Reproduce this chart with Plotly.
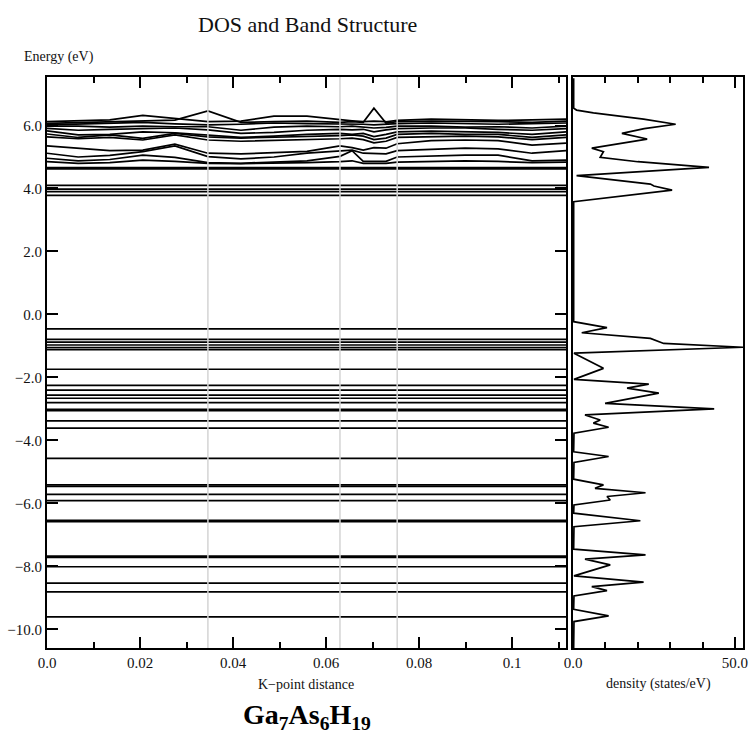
import plotly.graph_objects as go

# ---------------- data ----------------
# k-path vertices (K-point distance)
k_points = [0.0, 0.0067, 0.0135, 0.0206, 0.0275, 0.0346, 0.0417, 0.0488, 0.0559, 0.0630,
            0.0656, 0.0680, 0.0703, 0.0729, 0.0753, 0.0826, 0.0899, 0.0970, 0.1043, 0.1116]

# high-symmetry separators
k_separators = [0.0346, 0.0630, 0.0753]

# dispersive conduction bands (eV) sampled at k_points
dispersive_bands = [
    [6.12, 6.14, 6.18, 6.32, 6.22, 6.12, 6.14, 6.30, 6.30, 6.18, 6.15, 6.12, 6.14, 6.12, 6.16, 6.20, 6.18, 6.16, 6.18, 6.20],
    [6.07, 6.10, 6.12, 6.15, 6.17, 6.46, 6.10, 6.12, 6.14, 6.10, 6.12, 6.10, 6.55, 6.08, 6.12, 6.14, 6.14, 6.12, 6.10, 6.14],
    [6.02, 6.05, 6.06, 6.10, 6.05, 6.02, 6.04, 6.08, 6.06, 6.05, 6.06, 6.04, 6.02, 6.04, 6.06, 6.08, 6.06, 6.04, 6.06, 6.08],
    [5.98, 5.98, 5.95, 5.98, 5.96, 5.96, 5.85, 5.95, 5.98, 5.96, 5.98, 5.96, 5.92, 5.94, 5.98, 5.98, 5.95, 5.96, 5.92, 5.98],
    [5.91, 5.85, 5.88, 5.91, 5.92, 5.86, 5.75, 5.78, 5.85, 5.88, 5.86, 5.88, 5.80, 5.86, 5.90, 5.92, 5.92, 5.88, 5.85, 5.90],
    [5.83, 5.70, 5.72, 5.80, 5.77, 5.70, 5.62, 5.66, 5.72, 5.75, 5.72, 5.75, 5.65, 5.72, 5.80, 5.82, 5.80, 5.78, 5.72, 5.80],
    [5.73, 5.62, 5.70, 5.59, 5.75, 5.64, 5.60, 5.62, 5.65, 5.68, 5.70, 5.66, 5.55, 5.60, 5.72, 5.75, 5.72, 5.72, 5.62, 5.70],
    [5.64, 5.58, 5.62, 5.54, 5.70, 5.54, 5.50, 5.52, 5.55, 5.58, 5.60, 5.55, 5.45, 5.50, 5.62, 5.65, 5.66, 5.64, 5.55, 5.62],
    [5.35, 5.28, 5.20, 5.22, 5.41, 5.12, 5.10, 5.14, 5.18, 5.35, 5.30, 5.22, 5.30, 5.28, 5.42, 5.52, 5.54, 5.52, 5.38, 5.44],
    [5.12, 5.00, 5.05, 5.17, 5.35, 5.01, 4.94, 5.00, 5.12, 5.20, 5.22, 5.12, 5.10, 5.10, 5.20, 5.25, 5.28, 5.26, 5.12, 5.20],
    [4.96, 4.88, 4.92, 5.06, 4.99, 4.82, 4.80, 4.84, 4.88, 5.02, 5.20, 4.86, 4.86, 4.86, 5.00, 5.04, 5.06, 5.06, 4.88, 4.90],
    [4.85, 4.80, 4.82, 4.90, 4.86, 4.80, 4.79, 4.80, 4.82, 4.85, 4.88, 4.80, 4.80, 4.80, 4.84, 4.86, 4.88, 4.86, 4.82, 4.84],
]

# flat (dispersionless) levels (eV)
flat_levels = [4.66, 4.62, 4.10, 3.98, 3.90, 3.78,
               -0.46, -0.79, -0.88, -0.97, -1.05, -1.12, -1.74,
               -2.25, -2.40, -2.56, -2.66, -2.80, -3.01, -3.05, -3.38, -3.61,
               -4.57, -5.41, -5.46, -5.71, -5.91, -6.54, -6.58,
               -7.67, -7.71, -8.01, -8.53, -8.81, -9.60]

# density of states curve: energy (eV) and density (states/eV)
dos_energy = [7.5, 6.55, 6.49, 6.40, 6.20, 6.04, 5.90, 5.75, 5.57, 5.28, 5.17, 4.99, 4.85, 4.67,
              4.41, 4.14, 4.08, 3.95, 3.58,
              -0.23, -0.42, -0.58, -0.76, -0.92, -1.04, -1.23, -1.71, -2.06, -2.21, -2.34,
              -2.50, -2.82, -3.00, -3.19, -3.35, -3.45, -3.58, -3.77,
              -4.36, -4.51, -4.70, -5.23, -5.41, -5.52, -5.66, -5.78, -5.89, -6.05,
              -6.31, -6.55, -6.74, -7.45, -7.63, -7.77, -7.95, -8.30, -8.50, -8.64, -8.77, -8.94,
              -9.36, -9.57, -9.75, -10.6]
dos_value = [0.2, 0.2, 1.1, 6.3, 21.8, 31.7, 22.0, 15.1, 22.9, 5.8, 9.4, 8.4, 20.0, 42.0,
             1.1, 23.9, 25.0, 30.6, 0.2,
             0.2, 10.5, 2.7, 23.9, 28.0, 52.5, 0.3, 9.4, 0.3, 23.4, 16.7,
             26.5, 9.9, 43.6, 3.7, 8.4, 6.3, 11.0, 0.3,
             0.2, 11.0, 0.3, 0.2, 9.4, 6.8, 22.4, 10.5, 11.5, 0.3,
             0.2, 20.8, 0.3, 0.2, 22.4, 3.7, 11.5, 0.3, 21.8, 5.8, 10.5, 0.3,
             0.2, 11.0, 0.3, 0.2]

# axis ticks
k_tick_vals = [0.0, 0.02, 0.04, 0.06, 0.08, 0.1]
k_tick_text = ["0.0", "0.02", "0.04", "0.06", "0.08", "0.1"]
e_tick_vals = [6, 4, 2, 0, -2, -4, -6, -8, -10]
e_tick_text = ["6.0", "4.0", "2.0", "0.0", "\u22122.0", "\u22124.0", "\u22126.0", "\u22128.0", "\u221210.0"]
dos_tick_vals = [0, 50]
dos_tick_text = ["0.0", "50.0"]

K_MAX = 0.1116
E_RANGE = [-10.59, 7.54]
DOS_MAX = 52.5

# ---------------- figure ----------------
W, H = 750, 734
FONT = "'Liberation Serif', 'Times New Roman', Times, serif"
fig = go.Figure()

line_style = dict(color="black", width=1.7)

for band in dispersive_bands:
    fig.add_trace(go.Scatter(x=k_points, y=band, mode="lines", line=line_style,
                             xaxis="x", yaxis="y", hoverinfo="skip", showlegend=False))

for level in flat_levels:
    fig.add_trace(go.Scatter(x=[0, K_MAX], y=[level, level], mode="lines", line=line_style,
                             xaxis="x", yaxis="y", hoverinfo="skip", showlegend=False))

for ks in k_separators:
    fig.add_trace(go.Scatter(x=[ks, ks], y=E_RANGE, mode="lines",
                             line=dict(color="#d4d4d4", width=1.5),
                             xaxis="x", yaxis="y", hoverinfo="skip", showlegend=False))

fig.add_trace(go.Scatter(x=dos_value, y=dos_energy, mode="lines", line=line_style,
                         xaxis="x2", yaxis="y2", hoverinfo="skip", showlegend=False))


def px_x(p):
    return p / W


def px_y(p):
    return 1 - p / H


y_dom = [px_y(648), px_y(77)]
tick_font = dict(family=FONT, size=15, color="#111")

frame = dict(showline=True, linecolor="black", linewidth=2, showgrid=False, zeroline=False,
             automargin=False)

fig.update_layout(
    width=W, height=H,
    margin=dict(l=0, r=0, t=0, b=0),
    paper_bgcolor="white", plot_bgcolor="white",
    showlegend=False,
    font=dict(family=FONT, color="#111"),
    xaxis=dict(**frame, domain=[px_x(47), px_x(566)], range=[0, K_MAX],
               tickmode="array", tickvals=k_tick_vals, ticktext=k_tick_text,
               ticks="inside", ticklen=11, tickwidth=1.5, tickcolor="black",
               mirror="allticks", tickfont=tick_font,
               minor=dict(dtick=0.01, tick0=0, ticks="inside", ticklen=6, tickwidth=1.5,
                          tickcolor="black")),
    yaxis=dict(**frame, domain=y_dom, range=E_RANGE,
               tickmode="array", tickvals=e_tick_vals, ticktext=e_tick_text,
               ticks="inside", ticklen=11, tickwidth=1.5, tickcolor="black",
               mirror="allticks", tickfont=tick_font),
    xaxis2=dict(**frame, domain=[px_x(573), px_x(743)], range=[0, DOS_MAX], anchor="y2",
                tickmode="array", tickvals=dos_tick_vals, ticktext=dos_tick_text,
                ticks="inside", ticklen=11, tickwidth=1.5, tickcolor="black",
                mirror="allticks", tickfont=tick_font,
                minor=dict(dtick=10, tick0=0, ticks="inside", ticklen=6, tickwidth=1.5,
                           tickcolor="black")),
    yaxis2=dict(**frame, domain=y_dom, range=E_RANGE, anchor="x2",
                showticklabels=False, ticks="", mirror=True),
)

annotations = [
    dict(text="DOS and Band Structure", x=px_x(307), y=px_y(24), size=22),
    dict(text="Energy (eV)", x=px_x(22), y=px_y(57), size=14, xanchor="left"),
    dict(text="K\u2212point distance", x=px_x(306), y=px_y(684), size=14),
    dict(text="density (states/eV)", x=px_x(658), y=px_y(684), size=14),
    dict(text="<b>Ga<sub>7</sub>As<sub>6</sub>H<sub>19</sub></b>", x=px_x(307), y=px_y(716),
         size=28, color="black"),
]
for a in annotations:
    fig.add_annotation(
        text=a["text"], x=a["x"], y=a["y"], xref="paper", yref="paper",
        xanchor=a.get("xanchor", "center"), yanchor="middle", showarrow=False,
        font=dict(family=FONT, size=a["size"], color=a.get("color", "#111")),
    )

fig.write_html("out.html")
